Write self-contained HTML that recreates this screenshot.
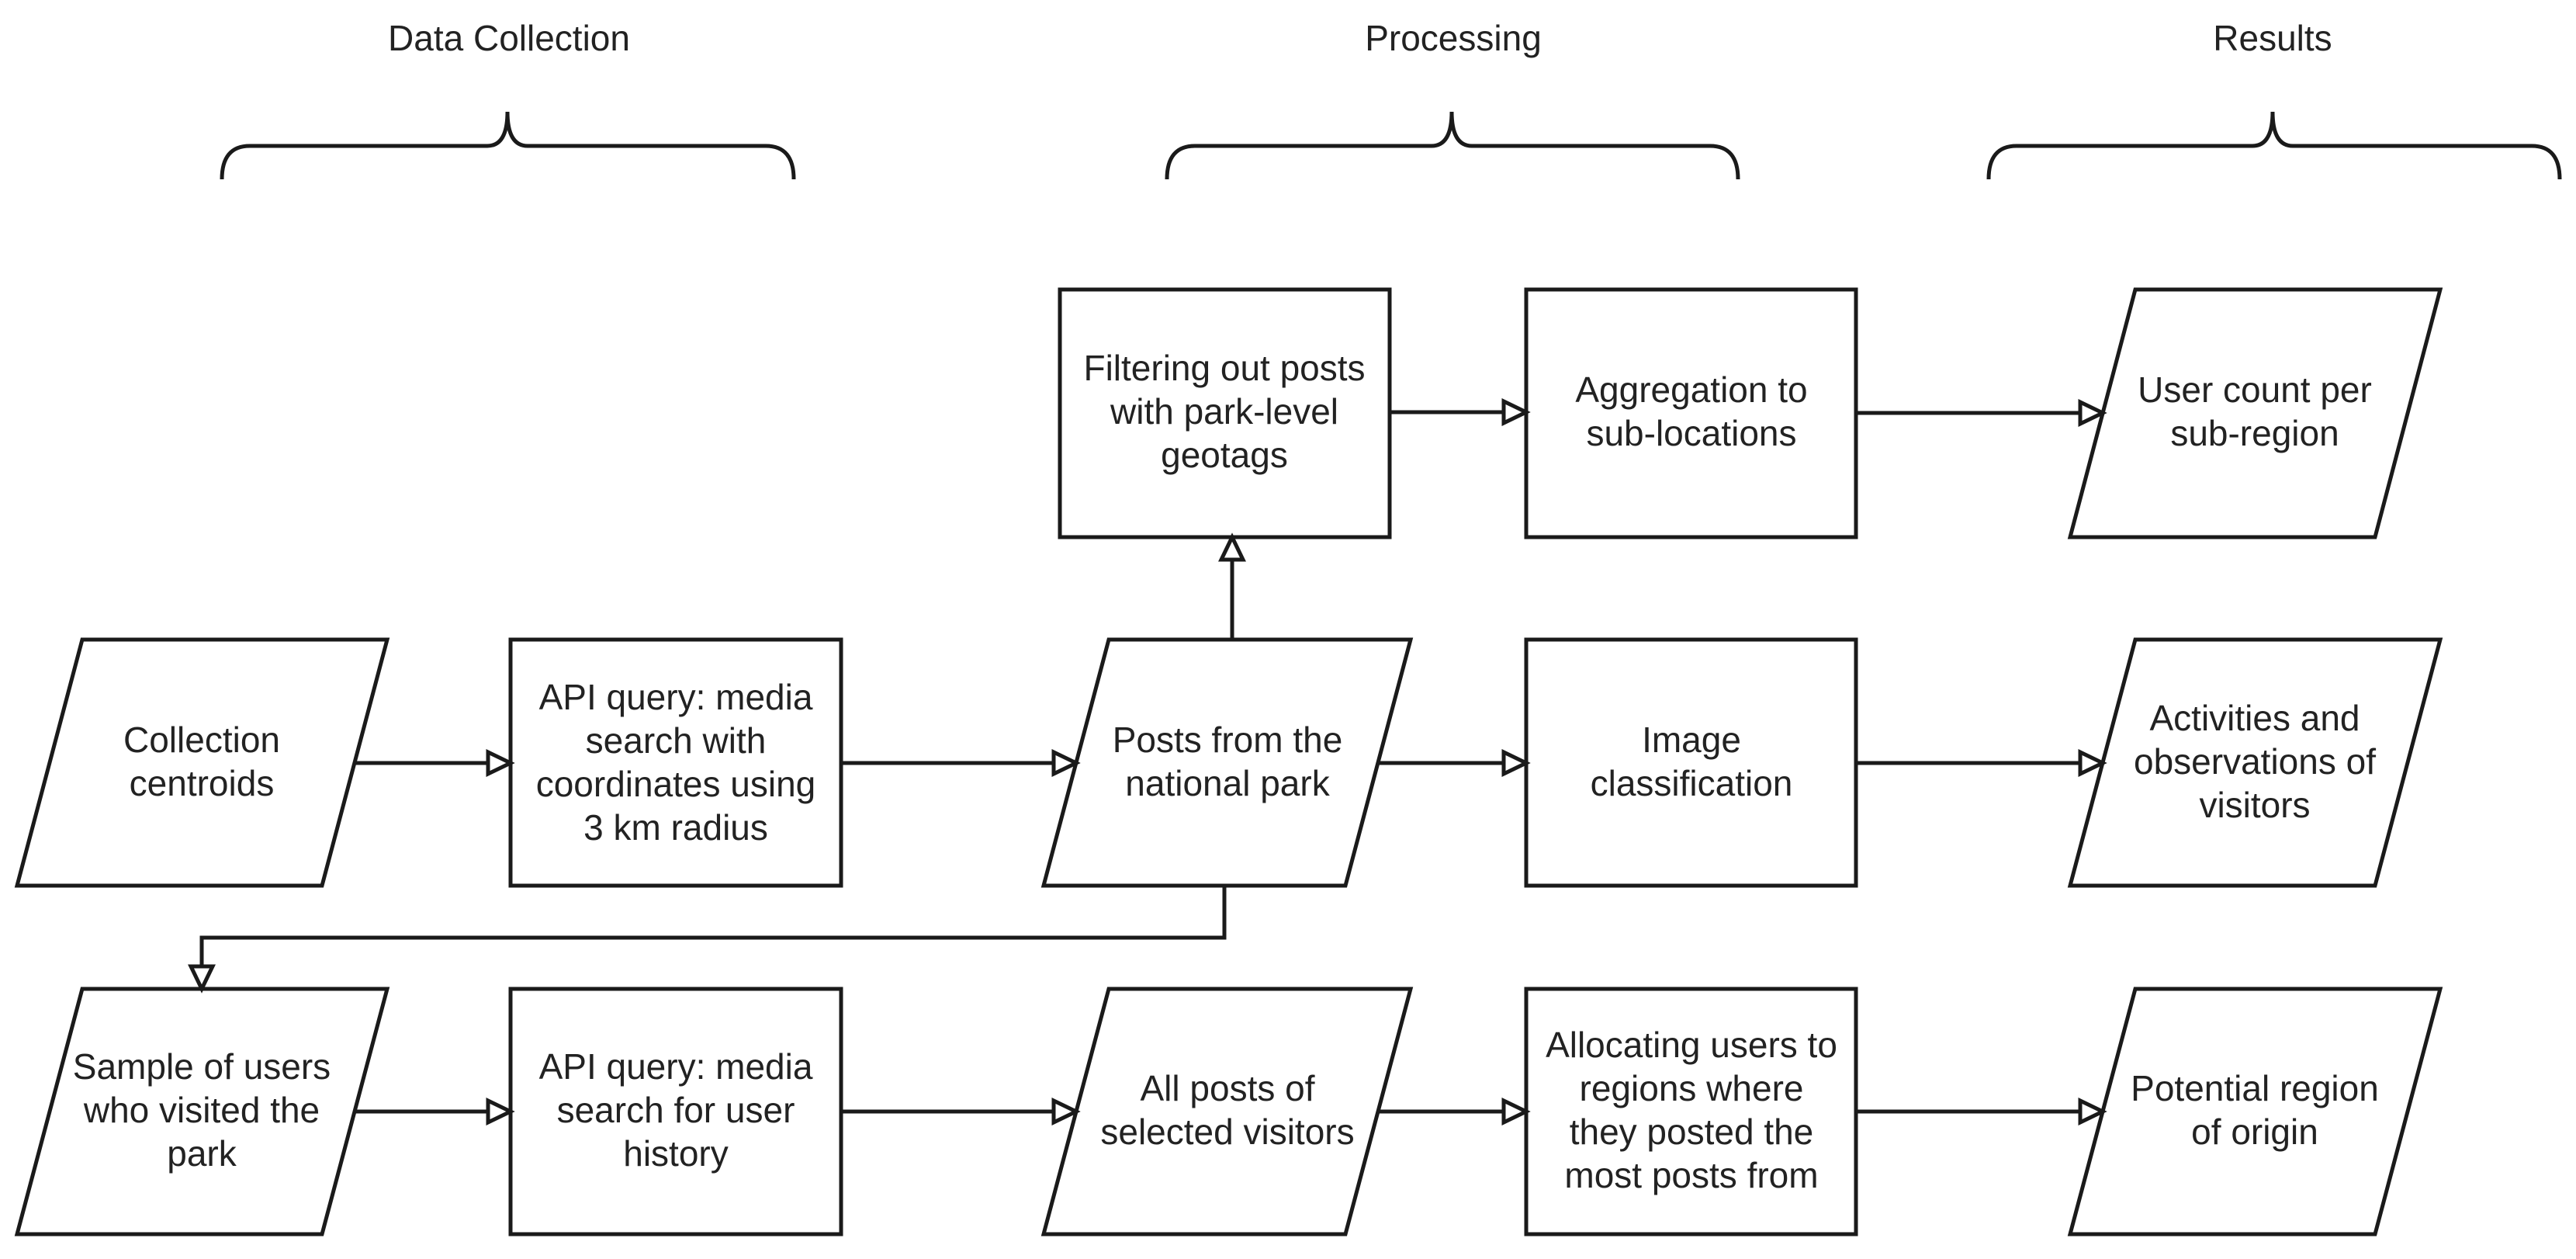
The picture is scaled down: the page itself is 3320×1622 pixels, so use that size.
<!DOCTYPE html>
<html><head><meta charset="utf-8"><style>
html,body{margin:0;padding:0;background:#fff;}
svg{display:block;}
text{font-family:"Liberation Sans",Arial,sans-serif;font-size:46px;fill:#222;text-anchor:middle;}
</style></head><body>
<svg width="3320" height="1622" viewBox="0 0 3320 1622" xmlns="http://www.w3.org/2000/svg">
<g fill="none" stroke="#1a1a1a" stroke-width="5">
<path d="M286,231 Q286,188 322,188 L628,188 Q654,188 654,144 Q654,188 680,188 L987,188 Q1023,188 1023,231"/>
<path d="M1504,231 Q1504,188 1540,188 L1845,188 Q1871,188 1871,144 Q1871,188 1897,188 L2204,188 Q2240,188 2240,231"/>
<path d="M2563,231 Q2563,188 2599,188 L2903,188 Q2929,188 2929,144 Q2929,188 2955,188 L3263,188 Q3299,188 3299,231"/>
</g>
<text x="656" y="65">Data Collection</text>
<text x="1873" y="65">Processing</text>
<text x="2929" y="65">Results</text>

<g fill="#fff" stroke="#1a1a1a" stroke-width="5">
<!-- row1 -->
<rect x="1366" y="373" width="425" height="319"/>
<rect x="1967" y="373" width="425" height="319"/>
<polygon points="2752,373 3145,373 3061,692 2668,692"/>
<!-- row2 -->
<polygon points="106,824 499,824 415,1141 22,1141"/>
<rect x="658" y="824" width="426" height="317"/>
<polygon points="1429,824 1818,824 1734,1141 1345,1141"/>
<rect x="1967" y="824" width="425" height="317"/>
<polygon points="2752,824 3145,824 3061,1141 2668,1141"/>
<!-- row3 -->
<polygon points="106,1274 499,1274 415,1590 22,1590"/>
<rect x="658" y="1274" width="426" height="316"/>
<polygon points="1429,1274 1818,1274 1734,1590 1345,1590"/>
<rect x="1967" y="1274" width="425" height="316"/>
<polygon points="2752,1274 3145,1274 3061,1590 2668,1590"/>
</g>

<g stroke="#1a1a1a" stroke-width="5" fill="none">
<line x1="1791" y1="531" x2="1940" y2="531"/>
<line x1="2392" y1="532" x2="2683" y2="532"/>
<line x1="457" y1="983" x2="631" y2="983"/>
<line x1="1084" y1="983" x2="1360" y2="983"/>
<line x1="1776" y1="983" x2="1940" y2="983"/>
<line x1="2392" y1="983" x2="2683" y2="983"/>
<line x1="457" y1="1432" x2="631" y2="1432"/>
<line x1="1084" y1="1432" x2="1360" y2="1432"/>
<line x1="1776" y1="1432" x2="1940" y2="1432"/>
<line x1="2392" y1="1432" x2="2683" y2="1432"/>
<line x1="1588" y1="824" x2="1588" y2="719"/>
<polyline points="1578,1141 1578,1208 260,1208 260,1247"/>
</g>
<g fill="#fff" stroke="#1a1a1a" stroke-width="5">
<polygon points="1967,531 1938,517 1938,545"/>
<polygon points="2710,532 2681,518 2681,546"/>
<polygon points="658,983 629,969 629,997"/>
<polygon points="1387,983 1358,969 1358,997"/>
<polygon points="1967,983 1938,969 1938,997"/>
<polygon points="2710,983 2681,969 2681,997"/>
<polygon points="658,1432 629,1418 629,1446"/>
<polygon points="1387,1432 1358,1418 1358,1446"/>
<polygon points="1967,1432 1938,1418 1938,1446"/>
<polygon points="2710,1432 2681,1418 2681,1446"/>
<polygon points="1588,692 1574,721 1602,721"/>
<polygon points="260,1274 246,1245 274,1245"/>
</g>

<!-- row1 text -->
<text x="1578" y="490">Filtering out posts</text>
<text x="1578" y="546">with park-level</text>
<text x="1578" y="602">geotags</text>
<text x="2180" y="518">Aggregation to</text>
<text x="2180" y="574">sub-locations</text>
<text x="2906" y="518">User count per</text>
<text x="2906" y="574">sub-region</text>
<!-- row2 text -->
<text x="260" y="969">Collection</text>
<text x="260" y="1025">centroids</text>
<text x="871" y="914">API query: media</text>
<text x="871" y="970">search with</text>
<text x="871" y="1026">coordinates using</text>
<text x="871" y="1082">3 km radius</text>
<text x="1582" y="969">Posts from the</text>
<text x="1582" y="1025">national park</text>
<text x="2180" y="969">Image</text>
<text x="2180" y="1025">classification</text>
<text x="2906" y="941">Activities and</text>
<text x="2906" y="997">observations of</text>
<text x="2906" y="1053">visitors</text>
<!-- row3 text -->
<text x="260" y="1390">Sample of users</text>
<text x="260" y="1446">who visited the</text>
<text x="260" y="1502">park</text>
<text x="871" y="1390">API query: media</text>
<text x="871" y="1446">search for user</text>
<text x="871" y="1502">history</text>
<text x="1582" y="1418">All posts of</text>
<text x="1582" y="1474">selected visitors</text>
<text x="2180" y="1362">Allocating users to</text>
<text x="2180" y="1418">regions where</text>
<text x="2180" y="1474">they posted the</text>
<text x="2180" y="1530">most posts from</text>
<text x="2906" y="1418">Potential region</text>
<text x="2906" y="1474">of origin</text>
</svg>
</body></html>
